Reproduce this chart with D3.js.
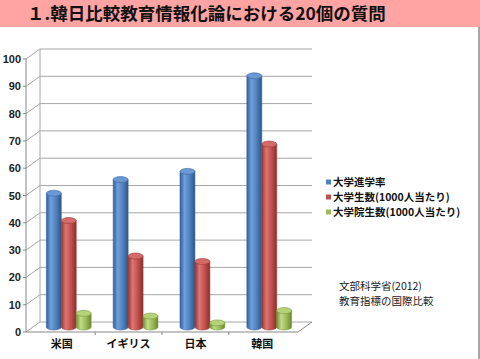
<!DOCTYPE html>
<html>
<head>
<meta charset="utf-8">
<script src="https://cdn.jsdelivr.net/npm/d3@7"></script>
<style>
  html, body { margin: 0; padding: 0; background: #fff; }
  svg { display: block; font-family: "Noto Sans CJK JP", "Noto Sans", sans-serif; }
</style>
</head>
<body>
<div id="chart"></div>
<script>
const titleText = '１.韓日比較教育情報化論における20個の質問';
const categories = ['米国', 'イギリス', '日本', '韓国'];
const seriesNames = ['大学進学率', '大学生数(1000人当たり)', '大学院生数(1000人当たり)'];
const enrollRate = [49, 54, 57, 92];
const students = [39, 26, 24, 67];
const gradStudents = [5, 4, 1.5, 6];
const yTicks = [0, 10, 20, 30, 40, 50, 60, 70, 80, 90, 100];
const sourceLines = ['文部科学省(2012)', '教育指標の国際比較'];

const series = [enrollRate, students, gradStudents];
const palette = [
  { base: '#4f81bd', stops: ['#2f5d96', '#6f9fdc', '#4f81bd', '#2c5588'], top: '#6a98d4', edge: '#3a679f' },
  { base: '#c0504d', stops: ['#963431', '#df7673', '#c0504d', '#8a2f2c'], top: '#d56b68', edge: '#9a3b38' },
  { base: '#9bbb59', stops: ['#6f8e35', '#c2dc86', '#9bbb59', '#6a8632'], top: '#b5d279', edge: '#789a3c' }
];

const W = 480, H = 359;
const depth = { dx: 14, dy: -10 };
const plot = { left: 26, right: 298, top: 59, bottom: 332 };

const svg = d3.select('#chart').append('svg').attr('width', W).attr('height', H);

// title band
svg.append('rect').attr('x', 0).attr('y', 0).attr('width', W).attr('height', 27).attr('fill', '#ffa3a3');
svg.append('text').attr('x', 27).attr('y', 20)
  .attr('font-size', 17.5).attr('font-weight', 'bold').attr('fill', '#111')
  .text(titleText);
svg.append('line').attr('x1', 479).attr('x2', 479).attr('y1', 27).attr('y2', H)
  .attr('stroke', '#888').attr('stroke-width', 1.5);

const y = d3.scaleLinear().domain([0, 100]).range([plot.bottom, plot.top]);
const x0 = d3.scaleBand().domain(categories).range([plot.left, plot.right])
  .paddingInner(0.33).paddingOuter(0.2);
const x1 = d3.scaleBand().domain(d3.range(series.length)).range([0, x0.bandwidth()]);

const defs = svg.append('defs');
palette.forEach((p, i) => {
  const g = defs.append('linearGradient').attr('id', 'cyl' + i)
    .attr('x1', '0%').attr('x2', '100%').attr('y1', '0%').attr('y2', '0%');
  [0, 0.3, 0.65, 1].forEach((o, k) => g.append('stop').attr('offset', o).attr('stop-color', p.stops[k]));
});

const grid = '#a6a6a6';
const axisG = svg.append('g');

// back wall gridlines and left-wall diagonals
yTicks.forEach(t => {
  const yy = y(t);
  axisG.append('line')
    .attr('x1', plot.left + depth.dx).attr('x2', plot.right + depth.dx)
    .attr('y1', yy + depth.dy).attr('y2', yy + depth.dy)
    .attr('stroke', grid).attr('stroke-width', 1);
  axisG.append('line')
    .attr('x1', plot.left).attr('x2', plot.left + depth.dx)
    .attr('y1', yy).attr('y2', yy + depth.dy)
    .attr('stroke', grid).attr('stroke-width', 1);
  axisG.append('line')
    .attr('x1', plot.left - 3).attr('x2', plot.left)
    .attr('y1', yy).attr('y2', yy)
    .attr('stroke', '#888');
  axisG.append('text')
    .attr('x', plot.left - 5).attr('y', yy + 4)
    .attr('text-anchor', 'end').attr('font-size', 11).attr('font-weight', 'bold')
    .attr('font-family', 'Liberation Sans, Arial, sans-serif').attr('fill', '#222')
    .text(t);
});

// left axis, back wall edge and floor
axisG.append('line').attr('x1', plot.left).attr('x2', plot.left)
  .attr('y1', y(100)).attr('y2', y(0)).attr('stroke', '#888');
axisG.append('line').attr('x1', plot.left + depth.dx).attr('x2', plot.left + depth.dx)
  .attr('y1', y(100) + depth.dy).attr('y2', y(0) + depth.dy).attr('stroke', grid);
axisG.append('path')
  .attr('d', `M${plot.left},${y(0)}L${plot.right},${y(0)}L${plot.right + depth.dx},${y(0) + depth.dy}`)
  .attr('fill', 'none').attr('stroke', '#888');

// category ticks and labels
categories.forEach((c, i) => {
  if (i > 0) {
    const bx = x0(c) - x0.step() * x0.paddingInner() / 2;
    axisG.append('line').attr('x1', bx).attr('x2', bx)
      .attr('y1', y(0)).attr('y2', y(0) + 3).attr('stroke', '#888');
  }
  axisG.append('text')
    .attr('x', x0(c) + x0.bandwidth() / 2).attr('y', 348)
    .attr('text-anchor', 'middle').attr('font-size', 11).attr('font-weight', 'bold')
    .attr('fill', '#111').text(c);
});

// cylinders, drawn at mid depth
const mid = { dx: depth.dx / 2, dy: depth.dy / 2 };
const ry = 3;
const barsG = svg.append('g');
categories.forEach((c, ci) => {
  series.forEach((s, si) => {
    const p = palette[si];
    const bx = x0(c) + x1(si) + mid.dx;
    const bw = x1.bandwidth();
    const yTop = y(s[ci]) + mid.dy;
    const yBot = y(0) + mid.dy;
    const cx = bx + bw / 2, rx = bw / 2;
    const g = barsG.append('g');
    g.append('path')
      .attr('d', `M${bx},${yTop}L${bx},${yBot}A${rx},${ry} 0 0 0 ${bx + bw},${yBot}L${bx + bw},${yTop}Z`)
      .attr('fill', `url(#cyl${si})`).attr('stroke', p.edge).attr('stroke-width', 0.6);
    g.append('ellipse').attr('cx', cx).attr('cy', yTop).attr('rx', rx).attr('ry', ry)
      .attr('fill', p.top).attr('stroke', p.edge).attr('stroke-width', 0.6);
  });
});

// legend
const legend = svg.append('g').attr('transform', 'translate(326,182)');
seriesNames.forEach((n, i) => {
  const row = legend.append('g').attr('transform', `translate(0,${i * 15})`);
  row.append('rect').attr('x', 0).attr('y', -2.5).attr('width', 5).attr('height', 5).attr('fill', palette[i].base);
  row.append('text').attr('x', 7).attr('y', 4).attr('font-size', 10.5).attr('font-weight', 'bold')
    .attr('fill', '#111').text(n);
});

// source note
sourceLines.forEach((t, i) => {
  svg.append('text').attr('x', 339).attr('y', 290 + i * 15)
    .attr('font-size', 10.5).attr('fill', '#222').text(t);
});
</script>
</body>
</html>
